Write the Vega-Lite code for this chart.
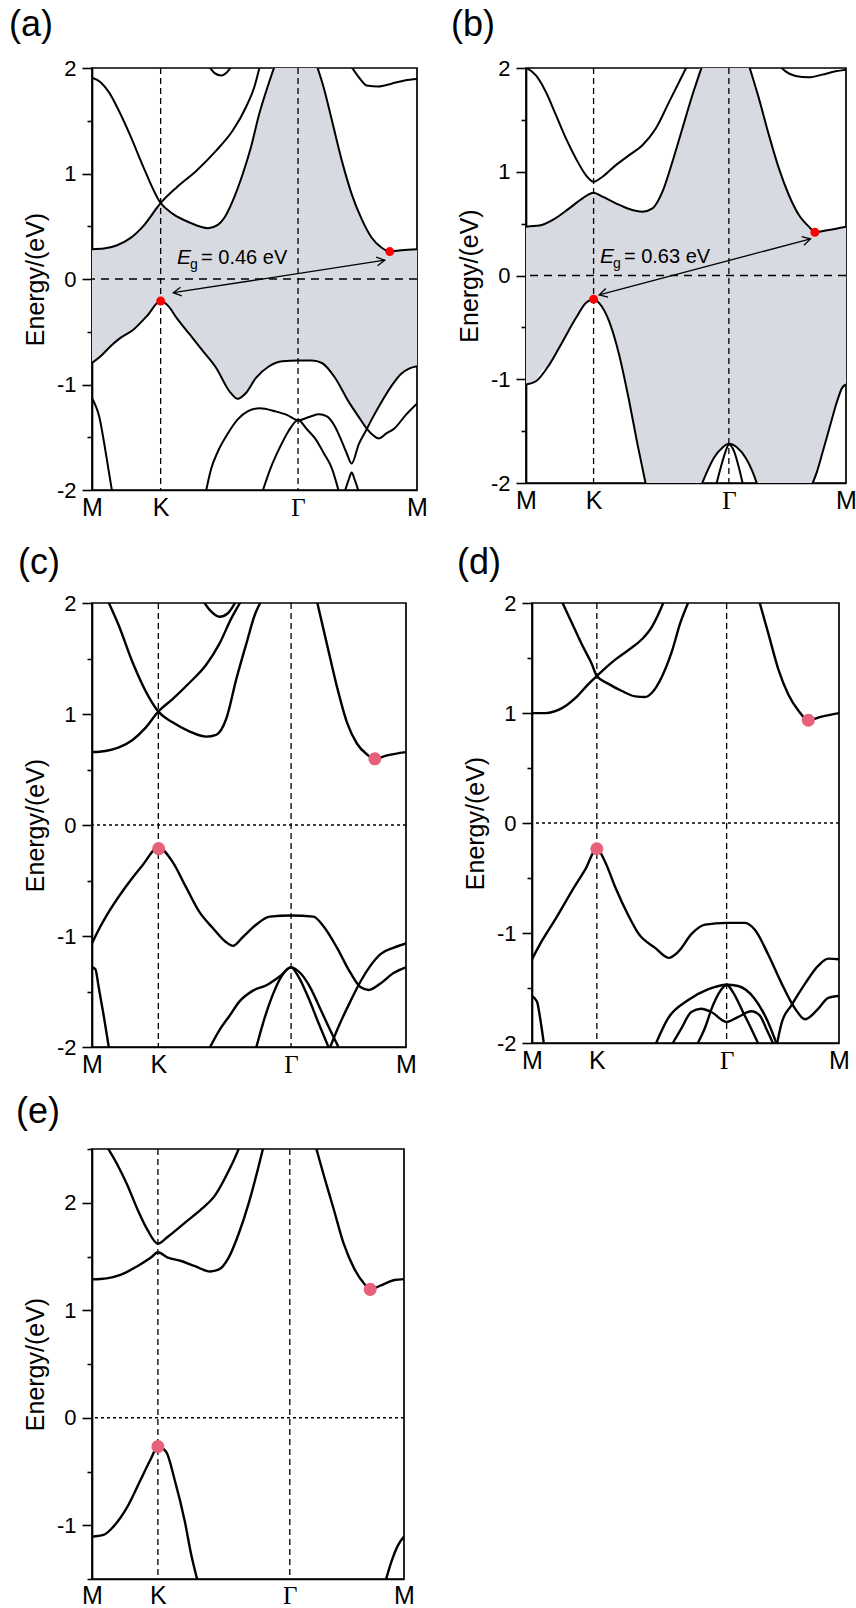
{
"$schema": "https://vega.github.io/schema/vega-lite/v6.json",
"padding": {"left": 8, "top": 6, "right": 2, "bottom": 0},
"background": "white",
"config": {
 "font": "Liberation Sans",
 "view": {"stroke": "black", "strokeWidth": 1.7},
 "axis": {"grid": false, "domainColor": "black", "domainWidth": 1.7, "tickColor": "black", "tickWidth": 1.6, "labelColor": "black", "titleColor": "black", "titleFontWeight": "normal", "labelFont": "Liberation Sans", "titleFont": "Liberation Sans"},
 "title": {"anchor": "start", "frame": "group", "fontSize": 36, "fontWeight": "normal", "font": "Liberation Sans", "baseline": "alphabetic", "color": "black"}
},
"datasets": {
 "a_lines": [
  {"s":"A1","k":0,"E":1.908},{"s":"A1","k":0.072,"E":1.866},{"s":"A1","k":0.142,"E":1.771},{"s":"A1","k":0.225,"E":1.597},{"s":"A1","k":0.322,"E":1.359},{"s":"A1","k":0.433,"E":1.058},{"s":"A1","k":0.577,"E":0.72},{"s":"A1","k":0.683,"E":0.615},{"s":"A1","k":0.822,"E":0.535},{"s":"A1","k":0.975,"E":0.482},{"s":"A1","k":1.058,"E":0.513},{"s":"A1","k":1.114,"E":0.583},{"s":"A1","k":1.183,"E":0.741},{"s":"A1","k":1.267,"E":0.995},{"s":"A1","k":1.336,"E":1.248},{"s":"A1","k":1.406,"E":1.566},{"s":"A1","k":1.475,"E":1.818},{"s":"A1","k":1.545,"E":2.05},
  {"s":"A2","k":0,"E":0.282},{"s":"A2","k":0.1,"E":0.288},{"s":"A2","k":0.211,"E":0.32},{"s":"A2","k":0.322,"E":0.387},{"s":"A2","k":0.433,"E":0.504},{"s":"A2","k":0.577,"E":0.72},{"s":"A2","k":0.711,"E":0.868},{"s":"A2","k":0.878,"E":1.027},{"s":"A2","k":1.044,"E":1.217},{"s":"A2","k":1.183,"E":1.407},{"s":"A2","k":1.294,"E":1.628},{"s":"A2","k":1.364,"E":1.818},{"s":"A2","k":1.42,"E":2.06},
  {"s":"A3","k":1.878,"E":2.06},{"s":"A3","k":1.947,"E":1.818},{"s":"A3","k":2.017,"E":1.502},{"s":"A3","k":2.1,"E":1.122},{"s":"A3","k":2.183,"E":0.805},{"s":"A3","k":2.267,"E":0.567},{"s":"A3","k":2.35,"E":0.393},{"s":"A3","k":2.433,"E":0.298},{"s":"A3","k":2.503,"E":0.26},{"s":"A3","k":2.6,"E":0.273},{"s":"A3","k":2.733,"E":0.282},
  {"s":"A4","k":2.17,"E":2.03},{"s":"A4","k":2.253,"E":1.898},{"s":"A4","k":2.308,"E":1.835},{"s":"A4","k":2.406,"E":1.825},{"s":"A4","k":2.517,"E":1.851},{"s":"A4","k":2.628,"E":1.882},{"s":"A4","k":2.733,"E":1.895},
  {"s":"A5","k":0.975,"E":2.03},{"s":"A5","k":1.031,"E":1.952},{"s":"A5","k":1.086,"E":1.93},{"s":"A5","k":1.133,"E":1.958},{"s":"A5","k":1.18,"E":2.03},
  {"s":"S1","k":0,"E":-0.796},{"s":"S1","k":0.072,"E":-0.732},{"s":"S1","k":0.156,"E":-0.637},{"s":"S1","k":0.239,"E":-0.558},{"s":"S1","k":0.35,"E":-0.478},{"s":"S1","k":0.461,"E":-0.352},{"s":"S1","k":0.577,"E":-0.209},{"s":"S1","k":0.642,"E":-0.257},{"s":"S1","k":0.711,"E":-0.368},{"s":"S1","k":0.822,"E":-0.526},{"s":"S1","k":0.933,"E":-0.684},{"s":"S1","k":1.044,"E":-0.843},{"s":"S1","k":1.156,"E":-1.065},{"s":"S1","k":1.225,"E":-1.136},{"s":"S1","k":1.294,"E":-1.081},{"s":"S1","k":1.378,"E":-0.938},{"s":"S1","k":1.489,"E":-0.827},{"s":"S1","k":1.6,"E":-0.779},{"s":"S1","k":1.732,"E":-0.773},{"s":"S1","k":1.85,"E":-0.773},{"s":"S1","k":1.933,"E":-0.796},{"s":"S1","k":2.044,"E":-0.938},{"s":"S1","k":2.156,"E":-1.16},{"s":"S1","k":2.239,"E":-1.302},{"s":"S1","k":2.308,"E":-1.416},{"s":"S1","k":2.375,"E":-1.492},{"s":"S1","k":2.408,"E":-1.511},{"s":"S1","k":2.475,"E":-1.464},{"s":"S1","k":2.542,"E":-1.416},{"s":"S1","k":2.642,"E":-1.283},{"s":"S1","k":2.733,"E":-1.179},
  {"s":"S2","k":0.958,"E":-2.015},{"s":"S2","k":1.0,"E":-1.806},{"s":"S2","k":1.058,"E":-1.635},{"s":"S2","k":1.142,"E":-1.464},{"s":"S2","k":1.225,"E":-1.331},{"s":"S2","k":1.308,"E":-1.255},{"s":"S2","k":1.408,"E":-1.226},{"s":"S2","k":1.542,"E":-1.255},{"s":"S2","k":1.642,"E":-1.29},{"s":"S2","k":1.732,"E":-1.34},{"s":"S2","k":1.833,"E":-1.305},{"s":"S2","k":1.908,"E":-1.283},{"s":"S2","k":1.975,"E":-1.302},{"s":"S2","k":2.042,"E":-1.397},{"s":"S2","k":2.1,"E":-1.54},{"s":"S2","k":2.142,"E":-1.654},{"s":"S2","k":2.183,"E":-1.749},{"s":"S2","k":2.242,"E":-1.568},{"s":"S2","k":2.308,"E":-1.426},{"s":"S2","k":2.347,"E":-1.34},{"s":"S2","k":2.431,"E":-1.17},{"s":"S2","k":2.514,"E":-1.02},{"s":"S2","k":2.597,"E":-0.9},{"s":"S2","k":2.665,"E":-0.85},{"s":"S2","k":2.733,"E":-0.827},
  {"s":"S3","k":1.433,"E":-2.015},{"s":"S3","k":1.5,"E":-1.797},{"s":"S3","k":1.575,"E":-1.606},{"s":"S3","k":1.65,"E":-1.445},{"s":"S3","k":1.732,"E":-1.34},{"s":"S3","k":1.808,"E":-1.426},{"s":"S3","k":1.875,"E":-1.511},{"s":"S3","k":1.95,"E":-1.654},{"s":"S3","k":2.017,"E":-1.797},{"s":"S3","k":2.075,"E":-2.015},
  {"s":"S4","k":2.125,"E":-2.015},{"s":"S4","k":2.158,"E":-1.901},{"s":"S4","k":2.183,"E":-1.835},{"s":"S4","k":2.208,"E":-1.901},{"s":"S4","k":2.242,"E":-2.015},
  {"s":"S5","k":0,"E":-1.131},{"s":"S5","k":0.03,"E":-1.2},{"s":"S5","k":0.06,"E":-1.3},{"s":"S5","k":0.1,"E":-1.54},{"s":"S5","k":0.135,"E":-1.78},{"s":"S5","k":0.169,"E":-2.015}
 ],
 "a_fill": [
  {"k":0,"E":-0.796,"E2":0.282},{"k":0.1,"E":-0.7,"E2":0.288},{"k":0.211,"E":-0.585,"E2":0.32},{"k":0.322,"E":-0.5,"E2":0.387},{"k":0.433,"E":-0.38,"E2":0.504},{"k":0.577,"E":-0.209,"E2":0.72},{"k":0.683,"E":-0.32,"E2":0.615},{"k":0.822,"E":-0.526,"E2":0.535},{"k":0.933,"E":-0.684,"E2":0.49},{"k":0.975,"E":-0.74,"E2":0.482},{"k":1.058,"E":-0.86,"E2":0.513},{"k":1.114,"E":-0.96,"E2":0.583},{"k":1.183,"E":-1.09,"E2":0.741},{"k":1.225,"E":-1.136,"E2":0.87},{"k":1.267,"E":-1.11,"E2":0.995},{"k":1.336,"E":-1.01,"E2":1.248},{"k":1.406,"E":-0.92,"E2":1.566},{"k":1.475,"E":-0.84,"E2":1.818},{"k":1.545,"E":-0.8,"E2":2.05},{"k":1.6,"E":-0.779,"E2":2.05},{"k":1.732,"E":-0.773,"E2":2.05},{"k":1.85,"E":-0.773,"E2":2.05},{"k":1.878,"E":-0.785,"E2":2.06},{"k":1.947,"E":-0.81,"E2":1.818},{"k":2.017,"E":-0.89,"E2":1.502},{"k":2.1,"E":-1.04,"E2":1.122},{"k":2.183,"E":-1.19,"E2":0.805},{"k":2.267,"E":-1.35,"E2":0.567},{"k":2.308,"E":-1.416,"E2":0.48},{"k":2.347,"E":-1.34,"E2":0.4},{"k":2.431,"E":-1.17,"E2":0.3},{"k":2.503,"E":-1.04,"E2":0.26},{"k":2.597,"E":-0.9,"E2":0.273},{"k":2.733,"E":-0.827,"E2":0.282}
 ],
 "a_pts": [{"k":0.577,"E":-0.209},{"k":2.503,"E":0.26}],
 "a_arrow": [{"end":"left","k":0.683,"E":-0.13},{"end":"right","k":2.461,"E":0.178}],
 "a_text": [{"k":0.715,"E":0.143,"sym":"E","sub":"g","rest":"= 0.46 eV"}],
 "b_lines": [
  {"s":"B1","k":0,"E":2.003},{"s":"B1","k":0.085,"E":1.929},{"s":"B1","k":0.17,"E":1.769},{"s":"B1","k":0.256,"E":1.545},{"s":"B1","k":0.341,"E":1.321},{"s":"B1","k":0.426,"E":1.128},{"s":"B1","k":0.511,"E":0.968},{"s":"B1","k":0.577,"E":0.904},{"s":"B1","k":0.653,"E":0.952},{"s":"B1","k":0.767,"E":1.064},{"s":"B1","k":0.881,"E":1.16},{"s":"B1","k":0.994,"E":1.256},{"s":"B1","k":1.108,"E":1.417},{"s":"B1","k":1.222,"E":1.673},{"s":"B1","k":1.307,"E":1.865},{"s":"B1","k":1.378,"E":2.026},
  {"s":"B2","k":0,"E":0.471},{"s":"B2","k":0.114,"E":0.481},{"s":"B2","k":0.227,"E":0.535},{"s":"B2","k":0.369,"E":0.647},{"s":"B2","k":0.483,"E":0.744},{"s":"B2","k":0.577,"E":0.798},{"s":"B2","k":0.653,"E":0.76},{"s":"B2","k":0.767,"E":0.696},{"s":"B2","k":0.881,"E":0.641},{"s":"B2","k":0.994,"E":0.615},{"s":"B2","k":1.08,"E":0.647},{"s":"B2","k":1.165,"E":0.808},{"s":"B2","k":1.25,"E":1.096},{"s":"B2","k":1.335,"E":1.417},{"s":"B2","k":1.42,"E":1.737},{"s":"B2","k":1.506,"E":2.026},
  {"s":"B3","k":1.903,"E":2.026},{"s":"B3","k":1.989,"E":1.705},{"s":"B3","k":2.074,"E":1.353},{"s":"B3","k":2.159,"E":1.032},{"s":"B3","k":2.244,"E":0.776},{"s":"B3","k":2.33,"E":0.583},{"s":"B3","k":2.415,"E":0.471},{"s":"B3","k":2.472,"E":0.417},{"s":"B3","k":2.585,"E":0.439},{"s":"B3","k":2.733,"E":0.471},
  {"s":"B4","k":2.159,"E":2.026},{"s":"B4","k":2.216,"E":1.968},{"s":"B4","k":2.301,"E":1.923},{"s":"B4","k":2.415,"E":1.91},{"s":"B4","k":2.528,"E":1.936},{"s":"B4","k":2.642,"E":1.968},{"s":"B4","k":2.733,"E":1.984},
  {"s":"V1","k":0,"E":-1.051},{"s":"V1","k":0.085,"E":-1.019},{"s":"V1","k":0.199,"E":-0.859},{"s":"V1","k":0.313,"E":-0.635},{"s":"V1","k":0.426,"E":-0.41},{"s":"V1","k":0.511,"E":-0.266},{"s":"V1","k":0.577,"E":-0.228},{"s":"V1","k":0.625,"E":-0.266},{"s":"V1","k":0.71,"E":-0.442},{"s":"V1","k":0.795,"E":-0.763},{"s":"V1","k":0.881,"E":-1.212},{"s":"V1","k":0.952,"E":-1.628},{"s":"V1","k":1.023,"E":-2.013},
  {"s":"V2","k":2.443,"E":-2.013},{"s":"V2","k":2.486,"E":-1.885},{"s":"V2","k":2.543,"E":-1.66},{"s":"V2","k":2.599,"E":-1.436},{"s":"V2","k":2.656,"E":-1.212},{"s":"V2","k":2.699,"E":-1.083},{"s":"V2","k":2.733,"E":-1.051},
  {"s":"V3","k":1.5,"E":-2.013},{"s":"V3","k":1.548,"E":-1.885},{"s":"V3","k":1.605,"E":-1.756},{"s":"V3","k":1.676,"E":-1.66},{"s":"V3","k":1.732,"E":-1.622},{"s":"V3","k":1.804,"E":-1.66},{"s":"V3","k":1.875,"E":-1.756},{"s":"V3","k":1.932,"E":-1.885},{"s":"V3","k":1.974,"E":-2.013},
  {"s":"V4","k":1.625,"E":-2.013},{"s":"V4","k":1.662,"E":-1.853},{"s":"V4","k":1.705,"E":-1.692},{"s":"V4","k":1.732,"E":-1.628},{"s":"V4","k":1.776,"E":-1.692},{"s":"V4","k":1.818,"E":-1.853},{"s":"V4","k":1.852,"E":-2.013}
 ],
 "b_fill": [
  {"k":0,"E":-1.051,"E2":0.471},{"k":0.085,"E":-1.019,"E2":0.479},{"k":0.114,"E":-0.95,"E2":0.481},{"k":0.199,"E":-0.859,"E2":0.52},{"k":0.227,"E":-0.8,"E2":0.535},{"k":0.313,"E":-0.635,"E2":0.6},{"k":0.369,"E":-0.52,"E2":0.647},{"k":0.426,"E":-0.41,"E2":0.7},{"k":0.483,"E":-0.31,"E2":0.744},{"k":0.511,"E":-0.266,"E2":0.76},{"k":0.577,"E":-0.228,"E2":0.798},{"k":0.625,"E":-0.266,"E2":0.775},{"k":0.653,"E":-0.32,"E2":0.76},{"k":0.71,"E":-0.442,"E2":0.73},{"k":0.767,"E":-0.66,"E2":0.696},{"k":0.795,"E":-0.763,"E2":0.68},{"k":0.881,"E":-1.212,"E2":0.641},{"k":0.952,"E":-1.628,"E2":0.625},{"k":0.994,"E":-1.86,"E2":0.615},{"k":1.023,"E":-2.02,"E2":0.625},{"k":1.08,"E":-2.02,"E2":0.647},{"k":1.165,"E":-2.02,"E2":0.808},{"k":1.25,"E":-2.02,"E2":1.096},{"k":1.335,"E":-2.02,"E2":1.417},{"k":1.42,"E":-2.02,"E2":1.737},{"k":1.5,"E":-2.02,"E2":2.02},{"k":1.548,"E":-1.885,"E2":2.02},{"k":1.605,"E":-1.756,"E2":2.02},{"k":1.676,"E":-1.66,"E2":2.02},{"k":1.732,"E":-1.622,"E2":2.02},{"k":1.804,"E":-1.66,"E2":2.02},{"k":1.875,"E":-1.756,"E2":2.02},{"k":1.903,"E":-1.82,"E2":2.026},{"k":1.932,"E":-1.885,"E2":1.9},{"k":1.974,"E":-2.02,"E2":1.77},{"k":1.989,"E":-2.02,"E2":1.705},{"k":2.074,"E":-2.02,"E2":1.353},{"k":2.159,"E":-2.02,"E2":1.032},{"k":2.244,"E":-2.02,"E2":0.776},{"k":2.33,"E":-2.02,"E2":0.583},{"k":2.415,"E":-2.02,"E2":0.471},{"k":2.443,"E":-2.02,"E2":0.45},{"k":2.486,"E":-1.885,"E2":0.42},{"k":2.543,"E":-1.66,"E2":0.43},{"k":2.599,"E":-1.436,"E2":0.44},{"k":2.656,"E":-1.212,"E2":0.455},{"k":2.699,"E":-1.083,"E2":0.465},{"k":2.733,"E":-1.051,"E2":0.471}
 ],
 "b_pts": [{"k":0.577,"E":-0.228},{"k":2.466,"E":0.417}],
 "b_arrow": [{"end":"left","k":0.625,"E":-0.186},{"end":"right","k":2.429,"E":0.353}],
 "b_text": [{"k":0.631,"E":0.118,"sym":"E","sub":"g","rest":"= 0.63 eV"}],
 "c_lines": [
  {"s":"C1","k":0.123,"E":2.053},{"s":"C1","k":0.234,"E":1.795},{"s":"C1","k":0.35,"E":1.473},{"s":"C1","k":0.496,"E":1.15},{"s":"C1","k":0.577,"E":1.022},{"s":"C1","k":0.701,"E":0.925},{"s":"C1","k":0.846,"E":0.844},{"s":"C1","k":0.992,"E":0.796},{"s":"C1","k":1.08,"E":0.812},{"s":"C1","k":1.168,"E":0.957},{"s":"C1","k":1.255,"E":1.312},{"s":"C1","k":1.343,"E":1.634},{"s":"C1","k":1.416,"E":1.892},{"s":"C1","k":1.474,"E":2.021},
  {"s":"C2","k":0,"E":0.657},{"s":"C2","k":0.117,"E":0.667},{"s":"C2","k":0.234,"E":0.699},{"s":"C2","k":0.35,"E":0.764},{"s":"C2","k":0.467,"E":0.877},{"s":"C2","k":0.577,"E":1.022},{"s":"C2","k":0.701,"E":1.134},{"s":"C2","k":0.846,"E":1.279},{"s":"C2","k":0.992,"E":1.441},{"s":"C2","k":1.109,"E":1.634},{"s":"C2","k":1.211,"E":1.859},{"s":"C2","k":1.299,"E":2.021},
  {"s":"C3","k":0.96,"E":2.03},{"s":"C3","k":1.036,"E":1.924},{"s":"C3","k":1.109,"E":1.876},{"s":"C3","k":1.182,"E":1.908},{"s":"C3","k":1.26,"E":2.03},
  {"s":"C4","k":1.956,"E":2.021},{"s":"C4","k":2.043,"E":1.634},{"s":"C4","k":2.131,"E":1.247},{"s":"C4","k":2.218,"E":0.925},{"s":"C4","k":2.306,"E":0.732},{"s":"C4","k":2.393,"E":0.635},{"s":"C4","k":2.461,"E":0.596},{"s":"C4","k":2.569,"E":0.628},{"s":"C4","k":2.732,"E":0.657},
  {"s":"V1","k":0,"E":-1.067},{"s":"V1","k":0.058,"E":-0.944},{"s":"V1","k":0.146,"E":-0.783},{"s":"V1","k":0.292,"E":-0.558},{"s":"V1","k":0.438,"E":-0.364},{"s":"V1","k":0.577,"E":-0.203},{"s":"V1","k":0.701,"E":-0.332},{"s":"V1","k":0.817,"E":-0.558},{"s":"V1","k":0.934,"E":-0.783},{"s":"V1","k":1.051,"E":-0.928},{"s":"V1","k":1.168,"E":-1.057},{"s":"V1","k":1.226,"E":-1.089},{"s":"V1","k":1.313,"E":-1.009},{"s":"V1","k":1.43,"E":-0.896},{"s":"V1","k":1.547,"E":-0.825},{"s":"V1","k":1.732,"E":-0.815},{"s":"V1","k":1.926,"E":-0.825},{"s":"V1","k":2.014,"E":-0.912},{"s":"V1","k":2.131,"E":-1.105},{"s":"V1","k":2.248,"E":-1.331},{"s":"V1","k":2.335,"E":-1.46},{"s":"V1","k":2.408,"E":-1.486},{"s":"V1","k":2.51,"E":-1.428},{"s":"V1","k":2.627,"E":-1.331},{"s":"V1","k":2.732,"E":-1.283},
  {"s":"V2","k":2.072,"E":-2.001},{"s":"V2","k":2.16,"E":-1.782},{"s":"V2","k":2.248,"E":-1.589},{"s":"V2","k":2.335,"E":-1.412},{"s":"V2","k":2.423,"E":-1.267},{"s":"V2","k":2.51,"E":-1.163},{"s":"V2","k":2.627,"E":-1.105},{"s":"V2","k":2.732,"E":-1.067},
  {"s":"V3","k":1.027,"E":-2.001},{"s":"V3","k":1.109,"E":-1.847},{"s":"V3","k":1.197,"E":-1.718},{"s":"V3","k":1.284,"E":-1.589},{"s":"V3","k":1.401,"E":-1.492},{"s":"V3","k":1.518,"E":-1.444},{"s":"V3","k":1.635,"E":-1.363},{"s":"V3","k":1.732,"E":-1.283},{"s":"V3","k":1.81,"E":-1.331},{"s":"V3","k":1.897,"E":-1.46},{"s":"V3","k":1.985,"E":-1.653},{"s":"V3","k":2.072,"E":-1.847},{"s":"V3","k":2.145,"E":-2.001},
  {"s":"V4","k":1.43,"E":-2.001},{"s":"V4","k":1.489,"E":-1.782},{"s":"V4","k":1.562,"E":-1.557},{"s":"V4","k":1.649,"E":-1.363},{"s":"V4","k":1.732,"E":-1.283},{"s":"V4","k":1.795,"E":-1.363},{"s":"V4","k":1.883,"E":-1.557},{"s":"V4","k":1.97,"E":-1.782},{"s":"V4","k":2.058,"E":-2.001},
  {"s":"V5","k":0,"E":-1.283},{"s":"V5","k":0.029,"E":-1.299},{"s":"V5","k":0.058,"E":-1.46},{"s":"V5","k":0.102,"E":-1.718},{"s":"V5","k":0.146,"E":-2.001}
 ],
 "c_pts": [{"k":0.58,"E":-0.213},{"k":2.461,"E":0.596}],
 "d_lines": [
  {"s":"D1","k":0.252,"E":2.043},{"s":"D1","k":0.356,"E":1.816},{"s":"D1","k":0.444,"E":1.622},{"s":"D1","k":0.533,"E":1.443},{"s":"D1","k":0.577,"E":1.336},{"s":"D1","k":0.681,"E":1.265},{"s":"D1","k":0.8,"E":1.2},{"s":"D1","k":0.919,"E":1.151},{"s":"D1","k":1.007,"E":1.145},{"s":"D1","k":1.067,"E":1.184},{"s":"D1","k":1.156,"E":1.33},{"s":"D1","k":1.244,"E":1.557},{"s":"D1","k":1.319,"E":1.816},{"s":"D1","k":1.407,"E":2.043},
  {"s":"D2","k":0,"E":0.999},{"s":"D2","k":0.119,"E":0.999},{"s":"D2","k":0.267,"E":1.044},{"s":"D2","k":0.385,"E":1.135},{"s":"D2","k":0.504,"E":1.265},{"s":"D2","k":0.577,"E":1.336},{"s":"D2","k":0.711,"E":1.46},{"s":"D2","k":0.859,"E":1.573},{"s":"D2","k":0.978,"E":1.67},{"s":"D2","k":1.067,"E":1.784},{"s":"D2","k":1.17,"E":2.005},{"s":"D2","k":1.185,"E":2.043},
  {"s":"D3","k":2.015,"E":2.043},{"s":"D3","k":2.104,"E":1.719},{"s":"D3","k":2.193,"E":1.395},{"s":"D3","k":2.281,"E":1.168},{"s":"D3","k":2.37,"E":1.022},{"s":"D3","k":2.459,"E":0.934},{"s":"D3","k":2.578,"E":0.967},{"s":"D3","k":2.732,"E":0.999},
  {"s":"V1","k":0,"E":-1.239},{"s":"V1","k":0.089,"E":-1.07},{"s":"V1","k":0.207,"E":-0.876},{"s":"V1","k":0.356,"E":-0.616},{"s":"V1","k":0.474,"E":-0.422},{"s":"V1","k":0.577,"E":-0.234},{"s":"V1","k":0.652,"E":-0.357},{"s":"V1","k":0.741,"E":-0.584},{"s":"V1","k":0.859,"E":-0.843},{"s":"V1","k":0.948,"E":-1.006},{"s":"V1","k":1.096,"E":-1.135},{"s":"V1","k":1.215,"E":-1.226},{"s":"V1","k":1.304,"E":-1.168},{"s":"V1","k":1.422,"E":-1.006},{"s":"V1","k":1.541,"E":-0.924},{"s":"V1","k":1.732,"E":-0.908},{"s":"V1","k":1.896,"E":-0.908},{"s":"V1","k":1.985,"E":-0.973},{"s":"V1","k":2.104,"E":-1.2},{"s":"V1","k":2.222,"E":-1.46},{"s":"V1","k":2.341,"E":-1.687},{"s":"V1","k":2.43,"E":-1.784},{"s":"V1","k":2.548,"E":-1.687},{"s":"V1","k":2.637,"E":-1.589},{"s":"V1","k":2.732,"E":-1.573},
  {"s":"V2","k":2.18,"E":-2.01},{"s":"V2","k":2.222,"E":-1.816},{"s":"V2","k":2.311,"E":-1.654},{"s":"V2","k":2.43,"E":-1.46},{"s":"V2","k":2.548,"E":-1.297},{"s":"V2","k":2.637,"E":-1.233},{"s":"V2","k":2.732,"E":-1.239},
  {"s":"V3","k":0,"E":-1.573},{"s":"V3","k":0.044,"E":-1.622},{"s":"V3","k":0.074,"E":-1.784},{"s":"V3","k":0.104,"E":-1.995},
  {"s":"V4","k":1.105,"E":-2.0},{"s":"V4","k":1.209,"E":-1.779},{"s":"V4","k":1.387,"E":-1.612},{"s":"V4","k":1.565,"E":-1.513},{"s":"V4","k":1.732,"E":-1.47},{"s":"V4","k":1.833,"E":-1.482},{"s":"V4","k":1.981,"E":-1.597},{"s":"V4","k":2.1,"E":-1.809},{"s":"V4","k":2.174,"E":-2.0},
  {"s":"V5","k":1.253,"E":-2.0},{"s":"V5","k":1.328,"E":-1.87},{"s":"V5","k":1.417,"E":-1.718},{"s":"V5","k":1.506,"E":-1.688},{"s":"V5","k":1.595,"E":-1.718},{"s":"V5","k":1.732,"E":-1.809},{"s":"V5","k":1.833,"E":-1.764},{"s":"V5","k":1.951,"E":-1.712},{"s":"V5","k":2.026,"E":-1.749},{"s":"V5","k":2.085,"E":-1.87},{"s":"V5","k":2.144,"E":-2.0},
  {"s":"V6","k":1.476,"E":-2.0},{"s":"V6","k":1.536,"E":-1.87},{"s":"V6","k":1.61,"E":-1.658},{"s":"V6","k":1.669,"E":-1.537},{"s":"V6","k":1.732,"E":-1.47},{"s":"V6","k":1.788,"E":-1.537},{"s":"V6","k":1.877,"E":-1.718},{"s":"V6","k":1.951,"E":-1.87},{"s":"V6","k":2.011,"E":-2.0}
 ],
 "d_pts": [{"k":0.577,"E":-0.234},{"k":2.459,"E":0.934}],
 "e_lines": [
  {"s":"E1","k":0.13,"E":2.523},{"s":"E1","k":0.219,"E":2.361},{"s":"E1","k":0.308,"E":2.168},{"s":"E1","k":0.397,"E":1.942},{"s":"E1","k":0.486,"E":1.748},{"s":"E1","k":0.577,"E":1.619},{"s":"E1","k":0.664,"E":1.684},{"s":"E1","k":0.812,"E":1.813},{"s":"E1","k":0.96,"E":1.942},{"s":"E1","k":1.079,"E":2.071},{"s":"E1","k":1.197,"E":2.297},{"s":"E1","k":1.28,"E":2.49},{"s":"E1","k":1.292,"E":2.523},
  {"s":"E2","k":0,"E":1.287},{"s":"E2","k":0.13,"E":1.297},{"s":"E2","k":0.249,"E":1.329},{"s":"E2","k":0.397,"E":1.41},{"s":"E2","k":0.516,"E":1.49},{"s":"E2","k":0.577,"E":1.539},{"s":"E2","k":0.664,"E":1.49},{"s":"E2","k":0.782,"E":1.458},{"s":"E2","k":0.901,"E":1.41},{"s":"E2","k":1.034,"E":1.361},{"s":"E2","k":1.108,"E":1.377},{"s":"E2","k":1.197,"E":1.49},{"s":"E2","k":1.286,"E":1.716},{"s":"E2","k":1.375,"E":2.006},{"s":"E2","k":1.449,"E":2.297},{"s":"E2","k":1.502,"E":2.523},
  {"s":"E3","k":1.959,"E":2.523},{"s":"E3","k":2.027,"E":2.265},{"s":"E3","k":2.116,"E":1.942},{"s":"E3","k":2.204,"E":1.619},{"s":"E3","k":2.293,"E":1.394},{"s":"E3","k":2.382,"E":1.248},{"s":"E3","k":2.436,"E":1.194},{"s":"E3","k":2.53,"E":1.232},{"s":"E3","k":2.649,"E":1.281},{"s":"E3","k":2.732,"E":1.29},
  {"s":"V1","k":0,"E":-1.106},{"s":"V1","k":0.101,"E":-1.09},{"s":"V1","k":0.19,"E":-1.01},{"s":"V1","k":0.308,"E":-0.832},{"s":"V1","k":0.427,"E":-0.574},{"s":"V1","k":0.516,"E":-0.381},{"s":"V1","k":0.577,"E":-0.268},{"s":"V1","k":0.649,"E":-0.316},{"s":"V1","k":0.723,"E":-0.574},{"s":"V1","k":0.812,"E":-0.961},{"s":"V1","k":0.871,"E":-1.284},{"s":"V1","k":0.921,"E":-1.503},
  {"s":"V2","k":2.575,"E":-1.503},{"s":"V2","k":2.619,"E":-1.348},{"s":"V2","k":2.679,"E":-1.187},{"s":"V2","k":2.732,"E":-1.106}
 ],
 "e_pts": [{"k":0.577,"E":-0.268},{"k":2.436,"E":1.194}],
 "kpts": [{"k":0.577},{"k":1.732}],
 "zero": [{"E":0}]
},
"vconcat": [
 {"vconcat": [
  {"hconcat": [
   {"width": 325, "height": 422,
    "title": {"text": "(a)", "dx": -83, "offset": 13},
    "layer": [
     {"data": {"name": "a_fill"}, "mark": {"type": "area", "color": "#d7dae0", "clip": true, "interpolate": "monotone"},
      "encoding": {"x": {"field":"k","type":"quantitative","scale":{"domain":[0,2.732],"nice":false,"zero":false}},
                   "y": {"field":"E","type":"quantitative","scale":{"domain":[-2,2],"nice":false,"zero":false}},
                   "y2": {"field":"E2"}}},
     {"data": {"name": "kpts"}, "mark": {"type": "rule", "color": "black", "strokeWidth": 1.3, "strokeDash": [6, 4]},
      "encoding": {"x": {"field":"k","type":"quantitative","scale":{"domain":[0,2.732],"nice":false,"zero":false}}}},
     {"data": {"name": "zero"}, "mark": {"type": "rule", "color": "black", "strokeWidth": 1.6, "strokeDash": [8, 6]},
      "encoding": {"y": {"field":"E","type":"quantitative","scale":{"domain":[-2,2],"nice":false,"zero":false}}}},
     {"data": {"name": "a_lines"}, "mark": {"type": "line", "color": "black", "strokeWidth": 2, "clip": true, "interpolate": "monotone"},
      "encoding": {"x": {"field":"k","type":"quantitative","scale":{"domain":[0,2.732],"nice":false,"zero":false},"axis":{"values":[0,0.577,1.732,2.732],"labelExpr":"datum.value < 0.3 ? 'M' : datum.value < 1 ? 'K' : datum.value < 2 ? 'Γ' : 'M'","ticks":false,"tickSize":0,"labelPadding":5,"labelFontSize":25,"labelFont":{"condition":{"test":"datum.value > 1 && datum.value < 2","value":"Liberation Serif"},"value":"Liberation Sans"},"labelFlush":false,"labelOverlap":false,"title":null}},
                   "y": {"field":"E","type":"quantitative","scale":{"domain":[-2,2],"nice":false,"zero":false},"axis":{"values":[-2,-1.5,-1,-0.5,0,0.5,1,1.5,2],"labelExpr":"datum.value % 1 == 0 ? '' + datum.value : ''","tickSize":10,"tickDash":{"condition":{"test":"datum.value % 1 != 0","value":[5,20]},"value":[]},"labelFontSize":22,"labelPadding":6,"title":"Energy/(eV)","titleFontSize":25,"titlePadding":8,"labelFlush":false,"labelOverlap":false}},
                   "detail": {"field":"s","type":"nominal"}}},
     {"data": {"name": "a_arrow"}, "mark": {"type": "line", "color": "black", "strokeWidth": 1.3},
      "encoding": {"x": {"field":"k","type":"quantitative","scale":{"domain":[0,2.732],"nice":false,"zero":false}},
                   "y": {"field":"E","type":"quantitative","scale":{"domain":[-2,2],"nice":false,"zero":false}}}},
     {"data": {"name": "a_arrow"}, "mark": {"type": "point", "filled": false, "color": "black", "strokeWidth": 1.3, "size": 256, "angle": -8.7, "opacity": 1},
      "encoding": {"x": {"field":"k","type":"quantitative","scale":{"domain":[0,2.732],"nice":false,"zero":false}},
                   "y": {"field":"E","type":"quantitative","scale":{"domain":[-2,2],"nice":false,"zero":false}},
                   "shape": {"field":"end","type":"nominal","scale":{"domain":["left","right"],"range":["M 1 -0.55 L 0 0 L 1 0.55","M -1 -0.55 L 0 0 L -1 0.55"]},"legend":null}}},
     {"data": {"name": "a_pts"}, "mark": {"type": "circle", "color": "#ff0000", "size": 80, "opacity": 1},
      "encoding": {"x": {"field":"k","type":"quantitative","scale":{"domain":[0,2.732],"nice":false,"zero":false}},
                   "y": {"field":"E","type":"quantitative","scale":{"domain":[-2,2],"nice":false,"zero":false}}}},
     {"data": {"name": "a_text"}, "mark": {"type": "text", "align": "left", "baseline": "alphabetic", "fontSize": 21, "fontStyle": "italic", "color": "black"},
      "encoding": {"x": {"field":"k","type":"quantitative","scale":{"domain":[0,2.732],"nice":false,"zero":false}},
                   "y": {"field":"E","type":"quantitative","scale":{"domain":[-2,2],"nice":false,"zero":false}},
                   "text": {"field":"sym"}}},
     {"data": {"name": "a_text"}, "mark": {"type": "text", "align": "left", "baseline": "alphabetic", "fontSize": 14, "dx": 13, "dy": 5, "color": "black"},
      "encoding": {"x": {"field":"k","type":"quantitative","scale":{"domain":[0,2.732],"nice":false,"zero":false}},
                   "y": {"field":"E","type":"quantitative","scale":{"domain":[-2,2],"nice":false,"zero":false}},
                   "text": {"field":"sub"}}},
     {"data": {"name": "a_text"}, "mark": {"type": "text", "align": "left", "baseline": "alphabetic", "fontSize": 20, "dx": 24, "color": "black"},
      "encoding": {"x": {"field":"k","type":"quantitative","scale":{"domain":[0,2.732],"nice":false,"zero":false}},
                   "y": {"field":"E","type":"quantitative","scale":{"domain":[-2,2],"nice":false,"zero":false}},
                   "text": {"field":"rest"}}}
    ]},
   {"width": 320, "height": 415,
    "title": {"text": "(b)", "dx": -75, "offset": 13},
    "layer": [
     {"data": {"name": "b_fill"}, "mark": {"type": "area", "color": "#d7dae0", "clip": true, "interpolate": "monotone"},
      "encoding": {"x": {"field":"k","type":"quantitative","scale":{"domain":[0,2.732],"nice":false,"zero":false}},
                   "y": {"field":"E","type":"quantitative","scale":{"domain":[-2,2],"nice":false,"zero":false}},
                   "y2": {"field":"E2"}}},
     {"data": {"name": "kpts"}, "mark": {"type": "rule", "color": "black", "strokeWidth": 1.3, "strokeDash": [6, 4]},
      "encoding": {"x": {"field":"k","type":"quantitative","scale":{"domain":[0,2.732],"nice":false,"zero":false}}}},
     {"data": {"name": "zero"}, "mark": {"type": "rule", "color": "black", "strokeWidth": 1.6, "strokeDash": [8, 6]},
      "encoding": {"y": {"field":"E","type":"quantitative","scale":{"domain":[-2,2],"nice":false,"zero":false}}}},
     {"data": {"name": "b_lines"}, "mark": {"type": "line", "color": "black", "strokeWidth": 2, "clip": true, "interpolate": "monotone"},
      "encoding": {"x": {"field":"k","type":"quantitative","scale":{"domain":[0,2.732],"nice":false,"zero":false},"axis":{"values":[0,0.577,1.732,2.732],"labelExpr":"datum.value < 0.3 ? 'M' : datum.value < 1 ? 'K' : datum.value < 2 ? 'Γ' : 'M'","ticks":false,"tickSize":0,"labelPadding":5,"labelFontSize":25,"labelFont":{"condition":{"test":"datum.value > 1 && datum.value < 2","value":"Liberation Serif"},"value":"Liberation Sans"},"labelFlush":false,"labelOverlap":false,"title":null}},
                   "y": {"field":"E","type":"quantitative","scale":{"domain":[-2,2],"nice":false,"zero":false},"axis":{"values":[-2,-1.5,-1,-0.5,0,0.5,1,1.5,2],"labelExpr":"datum.value % 1 == 0 ? '' + datum.value : ''","tickSize":10,"tickDash":{"condition":{"test":"datum.value % 1 != 0","value":[5,20]},"value":[]},"labelFontSize":22,"labelPadding":6,"title":"Energy/(eV)","titleFontSize":25,"titlePadding":8,"labelFlush":false,"labelOverlap":false}},
                   "detail": {"field":"s","type":"nominal"}}},
     {"data": {"name": "b_arrow"}, "mark": {"type": "line", "color": "black", "strokeWidth": 1.3},
      "encoding": {"x": {"field":"k","type":"quantitative","scale":{"domain":[0,2.732],"nice":false,"zero":false}},
                   "y": {"field":"E","type":"quantitative","scale":{"domain":[-2,2],"nice":false,"zero":false}}}},
     {"data": {"name": "b_arrow"}, "mark": {"type": "point", "filled": false, "color": "black", "strokeWidth": 1.3, "size": 256, "angle": -14.8, "opacity": 1},
      "encoding": {"x": {"field":"k","type":"quantitative","scale":{"domain":[0,2.732],"nice":false,"zero":false}},
                   "y": {"field":"E","type":"quantitative","scale":{"domain":[-2,2],"nice":false,"zero":false}},
                   "shape": {"field":"end","type":"nominal","scale":{"domain":["left","right"],"range":["M 1 -0.55 L 0 0 L 1 0.55","M -1 -0.55 L 0 0 L -1 0.55"]},"legend":null}}},
     {"data": {"name": "b_pts"}, "mark": {"type": "circle", "color": "#ff0000", "size": 80, "opacity": 1},
      "encoding": {"x": {"field":"k","type":"quantitative","scale":{"domain":[0,2.732],"nice":false,"zero":false}},
                   "y": {"field":"E","type":"quantitative","scale":{"domain":[-2,2],"nice":false,"zero":false}}}},
     {"data": {"name": "b_text"}, "mark": {"type": "text", "align": "left", "baseline": "alphabetic", "fontSize": 21, "fontStyle": "italic", "color": "black"},
      "encoding": {"x": {"field":"k","type":"quantitative","scale":{"domain":[0,2.732],"nice":false,"zero":false}},
                   "y": {"field":"E","type":"quantitative","scale":{"domain":[-2,2],"nice":false,"zero":false}},
                   "text": {"field":"sym"}}},
     {"data": {"name": "b_text"}, "mark": {"type": "text", "align": "left", "baseline": "alphabetic", "fontSize": 14, "dx": 13, "dy": 5, "color": "black"},
      "encoding": {"x": {"field":"k","type":"quantitative","scale":{"domain":[0,2.732],"nice":false,"zero":false}},
                   "y": {"field":"E","type":"quantitative","scale":{"domain":[-2,2],"nice":false,"zero":false}},
                   "text": {"field":"sub"}}},
     {"data": {"name": "b_text"}, "mark": {"type": "text", "align": "left", "baseline": "alphabetic", "fontSize": 20, "dx": 24, "color": "black"},
      "encoding": {"x": {"field":"k","type":"quantitative","scale":{"domain":[0,2.732],"nice":false,"zero":false}},
                   "y": {"field":"E","type":"quantitative","scale":{"domain":[-2,2],"nice":false,"zero":false}},
                   "text": {"field":"rest"}}}
    ]}
  ], "spacing": 109, "bounds": "flush"},
  {"hconcat": [
   {"width": 314, "height": 444,
    "title": {"text": "(c)", "dx": -74, "offset": 10},
    "layer": [
     {"data": {"name": "kpts"}, "mark": {"type": "rule", "color": "black", "strokeWidth": 1.3, "strokeDash": [6, 4]},
      "encoding": {"x": {"field":"k","type":"quantitative","scale":{"domain":[0,2.732],"nice":false,"zero":false}}}},
     {"data": {"name": "zero"}, "mark": {"type": "rule", "color": "black", "strokeWidth": 1.3, "strokeDash": [3, 3]},
      "encoding": {"y": {"field":"E","type":"quantitative","scale":{"domain":[-2,2],"nice":false,"zero":false}}}},
     {"data": {"name": "c_lines"}, "mark": {"type": "line", "color": "black", "strokeWidth": 2.4, "clip": true, "interpolate": "monotone"},
      "encoding": {"x": {"field":"k","type":"quantitative","scale":{"domain":[0,2.732],"nice":false,"zero":false},"axis":{"values":[0,0.577,1.732,2.732],"labelExpr":"datum.value < 0.3 ? 'M' : datum.value < 1 ? 'K' : datum.value < 2 ? 'Γ' : 'M'","ticks":false,"tickSize":0,"labelPadding":5,"labelFontSize":25,"labelFont":{"condition":{"test":"datum.value > 1 && datum.value < 2","value":"Liberation Serif"},"value":"Liberation Sans"},"labelFlush":false,"labelOverlap":false,"title":null}},
                   "y": {"field":"E","type":"quantitative","scale":{"domain":[-2,2],"nice":false,"zero":false},"axis":{"values":[-2,-1.5,-1,-0.5,0,0.5,1,1.5,2],"labelExpr":"datum.value % 1 == 0 ? '' + datum.value : ''","tickSize":10,"tickDash":{"condition":{"test":"datum.value % 1 != 0","value":[5,20]},"value":[]},"labelFontSize":22,"labelPadding":6,"title":"Energy/(eV)","titleFontSize":25,"titlePadding":8,"labelFlush":false,"labelOverlap":false}},
                   "detail": {"field":"s","type":"nominal"}}},
     {"data": {"name": "c_pts"}, "mark": {"type": "circle", "color": "#e8617a", "size": 170, "opacity": 1},
      "encoding": {"x": {"field":"k","type":"quantitative","scale":{"domain":[0,2.732],"nice":false,"zero":false}},
                   "y": {"field":"E","type":"quantitative","scale":{"domain":[-2,2],"nice":false,"zero":false}}}}
    ]},
   {"width": 307, "height": 440,
    "title": {"text": "(d)", "dx": -75, "offset": 10},
    "layer": [
     {"data": {"name": "kpts"}, "mark": {"type": "rule", "color": "black", "strokeWidth": 1.3, "strokeDash": [6, 4]},
      "encoding": {"x": {"field":"k","type":"quantitative","scale":{"domain":[0,2.732],"nice":false,"zero":false}}}},
     {"data": {"name": "zero"}, "mark": {"type": "rule", "color": "black", "strokeWidth": 1.3, "strokeDash": [3, 3]},
      "encoding": {"y": {"field":"E","type":"quantitative","scale":{"domain":[-2,2],"nice":false,"zero":false}}}},
     {"data": {"name": "d_lines"}, "mark": {"type": "line", "color": "black", "strokeWidth": 2.4, "clip": true, "interpolate": "monotone"},
      "encoding": {"x": {"field":"k","type":"quantitative","scale":{"domain":[0,2.732],"nice":false,"zero":false},"axis":{"values":[0,0.577,1.732,2.732],"labelExpr":"datum.value < 0.3 ? 'M' : datum.value < 1 ? 'K' : datum.value < 2 ? 'Γ' : 'M'","ticks":false,"tickSize":0,"labelPadding":5,"labelFontSize":25,"labelFont":{"condition":{"test":"datum.value > 1 && datum.value < 2","value":"Liberation Serif"},"value":"Liberation Sans"},"labelFlush":false,"labelOverlap":false,"title":null}},
                   "y": {"field":"E","type":"quantitative","scale":{"domain":[-2,2],"nice":false,"zero":false},"axis":{"values":[-2,-1.5,-1,-0.5,0,0.5,1,1.5,2],"labelExpr":"datum.value % 1 == 0 ? '' + datum.value : ''","tickSize":10,"tickDash":{"condition":{"test":"datum.value % 1 != 0","value":[5,20]},"value":[]},"labelFontSize":22,"labelPadding":6,"title":"Energy/(eV)","titleFontSize":25,"titlePadding":8,"labelFlush":false,"labelOverlap":false}},
                   "detail": {"field":"s","type":"nominal"}}},
     {"data": {"name": "d_pts"}, "mark": {"type": "circle", "color": "#e8617a", "size": 170, "opacity": 1},
      "encoding": {"x": {"field":"k","type":"quantitative","scale":{"domain":[0,2.732],"nice":false,"zero":false}},
                   "y": {"field":"E","type":"quantitative","scale":{"domain":[-2,2],"nice":false,"zero":false}}}}
    ]}
  ], "spacing": 126, "bounds": "flush"}
 ], "spacing": 23, "bounds": "full"},
 {"width": 312, "height": 430,
  "title": {"text": "(e)", "dx": -76, "offset": 7},
  "layer": [
   {"data": {"name": "kpts"}, "mark": {"type": "rule", "color": "black", "strokeWidth": 1.3, "strokeDash": [6, 4]},
    "encoding": {"x": {"field":"k","type":"quantitative","scale":{"domain":[0,2.732],"nice":false,"zero":false}}}},
   {"data": {"name": "zero"}, "mark": {"type": "rule", "color": "black", "strokeWidth": 1.3, "strokeDash": [3, 3]},
    "encoding": {"y": {"field":"E","type":"quantitative","scale":{"domain":[-1.5,2.5],"nice":false,"zero":false}}}},
   {"data": {"name": "e_lines"}, "mark": {"type": "line", "color": "black", "strokeWidth": 2.4, "clip": true, "interpolate": "monotone"},
    "encoding": {"x": {"field":"k","type":"quantitative","scale":{"domain":[0,2.732],"nice":false,"zero":false},"axis":{"values":[0,0.577,1.732,2.732],"labelExpr":"datum.value < 0.3 ? 'M' : datum.value < 1 ? 'K' : datum.value < 2 ? 'Γ' : 'M'","ticks":false,"tickSize":0,"labelPadding":4,"labelFontSize":25,"labelFont":{"condition":{"test":"datum.value > 1 && datum.value < 2","value":"Liberation Serif"},"value":"Liberation Sans"},"labelFlush":false,"labelOverlap":false,"title":null}},
                 "y": {"field":"E","type":"quantitative","scale":{"domain":[-1.5,2.5],"nice":false,"zero":false},"axis":{"values":[-1.5,-1,-0.5,0,0.5,1,1.5,2,2.5],"labelExpr":"datum.value % 1 == 0 ? '' + datum.value : ''","tickSize":10,"tickDash":{"condition":{"test":"datum.value % 1 != 0","value":[5,20]},"value":[]},"labelFontSize":22,"labelPadding":6,"title":"Energy/(eV)","titleFontSize":25,"titlePadding":8,"labelFlush":false,"labelOverlap":false}},
                 "detail": {"field":"s","type":"nominal"}}},
   {"data": {"name": "e_pts"}, "mark": {"type": "circle", "color": "#e8617a", "size": 170, "opacity": 1},
    "encoding": {"x": {"field":"k","type":"quantitative","scale":{"domain":[0,2.732],"nice":false,"zero":false}},
                 "y": {"field":"E","type":"quantitative","scale":{"domain":[-1.5,2.5],"nice":false,"zero":false}}}}
  ]}
],
"spacing": 15,
"bounds": "full"
}
